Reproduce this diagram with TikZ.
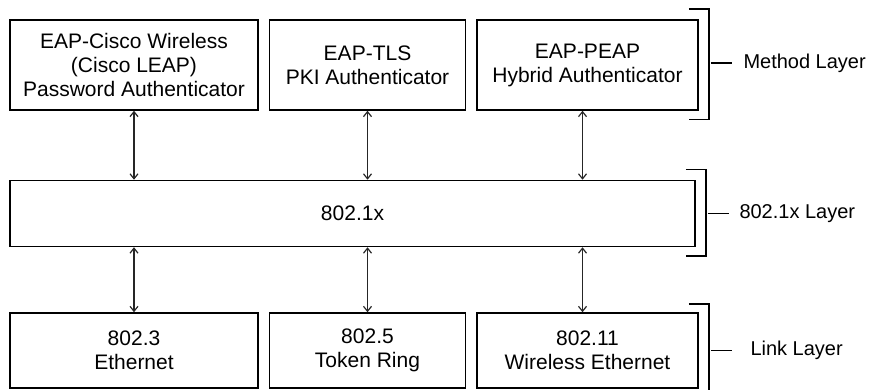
\documentclass[tikz,border=0pt]{standalone}
\usepackage{fontspec}
\setmainfont{Liberation Sans}
\usetikzlibrary{positioning, arrows.meta}

\begin{document}
\begin{tikzpicture}[
            x=1pt, y=1pt,
            node distance=10pt,
            box/.style={draw, line width=1.5pt, align=center, font=\fontsize{21}{24}\selectfont, inner sep=0pt},
            arrow/.style={{Straight Barb[length=5pt,width=8pt]}-{Straight Barb[length=5pt,width=8pt]}, line width=1.2pt, black!85},
            bracket/.style={line width=1.5pt},
            layer/.style={anchor=west, inner sep=0pt, font=\fontsize{20}{24}\selectfont}
          ]
        \useasboundingbox (0,0) rectangle (870,390);

        % method layer
        \node[box, minimum width=248pt, minimum height=90pt] (cisco) at (134,325) {EAP-Cisco Wireless\\(Cisco LEAP)\\Password Authenticator};
        \node[box, minimum width=196pt, minimum height=90pt] (tls) [right=of cisco] {EAP-TLS\\PKI Authenticator};
        \node[box, minimum width=221pt, minimum height=90pt] (peap) [right=of tls] {EAP-PEAP\\Hybrid Authenticator};

        % 802.1x layer
        \node[box, minimum width=685pt, minimum height=66pt] (dotx) [below=69pt of cisco.south west, anchor=north west] {802.1x};

        % link layer
        \node[box, minimum width=248pt, minimum height=75pt] (eth) [below=65pt of dotx.south west, anchor=north west] {802.3\\Ethernet};
        \node[box, minimum width=196pt, minimum height=75pt] (token) [right=of eth] {802.5\\Token Ring};
        \node[box, minimum width=221pt, minimum height=75pt] (wlan) [right=of token] {802.11\\Wireless Ethernet};

        \draw[arrow] (cisco.south) -- (cisco.south |- dotx.north);
        \draw[arrow] (tls.south) -- (tls.south |- dotx.north);
        \draw[arrow] ([xshift=-5pt]peap.south) -- ([xshift=-5pt]peap.south |- dotx.north);
        \draw[arrow] (eth.north |- dotx.south) -- (eth.north);
        \draw[arrow] (token.north |- dotx.south) -- (token.north);
        \draw[arrow] ([xshift=-5pt]wlan.north |- dotx.south) -- ([xshift=-5pt]wlan.north);

        % brackets
        \draw[bracket] ([xshift=-10pt,yshift=10pt]peap.north east) -- ++(20,0) |- ([xshift=-10pt,yshift=-9pt]peap.south east);
        \draw[bracket] ([xshift=-10pt,yshift=10pt]dotx.north east) -- ++(20,0) |- ([xshift=-10pt,yshift=-9pt]dotx.south east);
        \draw[bracket] ([xshift=-10pt,yshift=8pt]wlan.north east) -- ++(20,0) |- ([xshift=-10pt,yshift=-9pt]wlan.south east);

        \coordinate (mtick) at ([xshift=12pt,yshift=2pt]peap.east);
        \coordinate (dtick) at ([xshift=12pt]dotx.east);
        \coordinate (ltick) at ([xshift=12pt]wlan.east);
        \draw[bracket] (mtick) -- ++(21,0) node[layer, right=11pt] (mlabel) {Method Layer};
        \draw[bracket] (dtick) -- ++(21,0) node[layer, right=10pt] (dlabel) {802.1x Layer};
        \draw[bracket] (ltick) -- ++(21,0) node[layer, right=18pt] (llabel) {Link Layer};

        \end{tikzpicture}
\end{document}
